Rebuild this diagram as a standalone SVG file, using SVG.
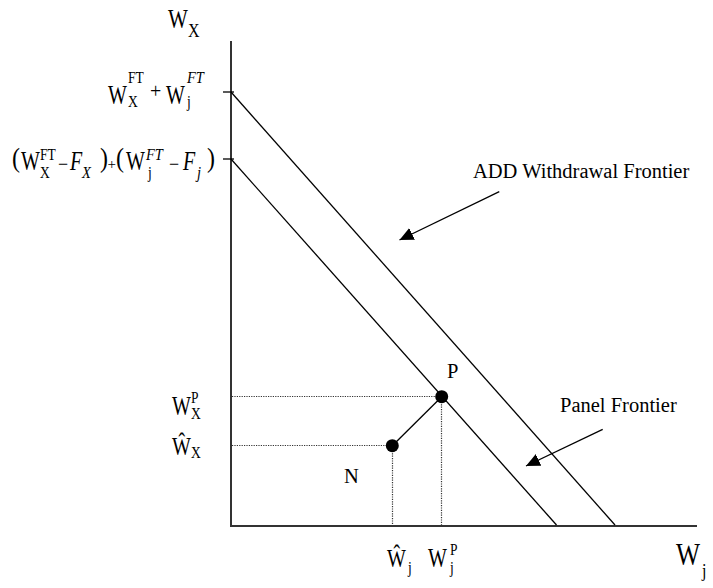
<svg xmlns="http://www.w3.org/2000/svg" width="713" height="588" viewBox="0 0 713 588">
<defs>
<style>
text{font-family:"Liberation Serif","Times New Roman",serif;fill:#000}
.lbl{font-size:20.5px}
.w{font-size:20px}
.s{font-size:13.5px}
.si{font-size:14.5px;font-style:italic}
.it{font-style:italic}
.ln{stroke:#000;stroke-width:1.3;fill:none}
.ax{stroke:#333;stroke-width:2;fill:none}
.dot{stroke:#333;stroke-width:1.2;stroke-dasharray:1.2 1.2;fill:none}
</style>
<marker id="ah" markerUnits="userSpaceOnUse" markerWidth="16" markerHeight="14" refX="14" refY="6.5" orient="auto">
<path d="M0,0 L14,6.5 L0,13 z" fill="#000"/>
</marker>
</defs>
<rect width="713" height="588" fill="#fff"/>

<g id="axes">
<line class="ax" x1="231" y1="41" x2="231" y2="526"/>
<line class="ax" x1="230" y1="526" x2="697" y2="526"/>
<line class="ln" x1="223" y1="92" x2="234" y2="92"/>
<line class="ln" x1="223" y1="159" x2="234" y2="159"/>
</g>

<g id="axis-titles">
<text transform="translate(168,28) scale(1,1.3)" style="font-size:21px">W</text>
<text transform="translate(188,37) scale(1,1.15)" style="font-size:16px">X</text>
<text transform="translate(676,565) scale(1,1.2)" style="font-size:25.5px">W</text>
<text transform="translate(702,577) scale(1,1.15)" style="font-size:16px">j</text>
</g>

<g id="connectors">
<line class="ln" x1="231" y1="92" x2="615" y2="525"/>
<line class="ln" x1="231" y1="159" x2="556.5" y2="525"/>
<line class="dot" x1="232" y1="396.5" x2="441" y2="396.5"/>
<line class="dot" x1="232" y1="445.5" x2="392" y2="445.5"/>
<line class="dot" x1="392.5" y1="446" x2="392.5" y2="525"/>
<line class="dot" x1="441.5" y1="397" x2="441.5" y2="525"/>
<line class="ln" x1="392.3" y1="445.7" x2="441.7" y2="396.7"/>
<line class="ln" x1="499.3" y1="191.7" x2="399.5" y2="240" marker-end="url(#ah)"/>
<line class="ln" x1="602.7" y1="429.3" x2="526" y2="466" marker-end="url(#ah)"/>
</g>

<g id="point-P">
<circle cx="441.7" cy="396.7" r="6.5" fill="#000"/>
<text class="lbl" x="447" y="378">P</text>
</g>
<g id="point-N">
<circle cx="392.3" cy="445.7" r="6.5" fill="#000"/>
<text class="lbl" x="344" y="483">N</text>
</g>

<g id="label-add">
<text class="lbl" x="473" y="178">ADD Withdrawal Frontier</text>
</g>
<g id="label-panel">
<text class="lbl" x="560" y="411.5">Panel Frontier</text>
</g>

<g id="label-ft-sum">
<text class="w" transform="translate(108,104) scale(1,1.4)">W</text>
<text class="s" transform="translate(128,83) scale(1,1.2)">FT</text>
<text class="s" transform="translate(128,107) scale(1,1.2)">X</text>
<text transform="translate(150,98) scale(1,1.1)" style="font-size:20px">+</text>
<text class="w" transform="translate(166,104) scale(1,1.4)">W</text>
<text class="si" transform="translate(187,83) scale(1,1.2)">FT</text>
<text class="s" transform="translate(187,107) scale(1,1.2)">j</text>
</g>

<g id="label-ft-minus-f">
<text transform="translate(12,167) scale(1,1.15)" style="font-size:24px">(</text>
<text class="w" transform="translate(21,170) scale(1,1.4)">W</text>
<text class="s" transform="translate(40,160) scale(1,1.2)">FT</text>
<text class="s" transform="translate(40,178) scale(1,1.2)">X</text>
<text transform="translate(58,170)" style="font-size:18px">−</text>
<text class="w it" transform="translate(70,170) scale(1,1.4)">F</text>
<text class="si" transform="translate(82,178) scale(1,1.2)">X</text>
<text transform="translate(100,167) scale(1,1.15)" style="font-size:24px">)</text>
<text transform="translate(107.5,169)" style="font-size:15px">+</text>
<text transform="translate(116,167) scale(1,1.15)" style="font-size:24px">(</text>
<text class="w" transform="translate(126,170) scale(1,1.4)">W</text>
<text class="si" transform="translate(146,160) scale(1,1.2)">FT</text>
<text class="s" transform="translate(148,178) scale(1,1.2)">j</text>
<text transform="translate(169,170)" style="font-size:18px">−</text>
<text class="w it" transform="translate(183,170) scale(1,1.4)">F</text>
<text class="si" transform="translate(197,178) scale(1,1.2)">j</text>
<text transform="translate(207,167) scale(1,1.15)" style="font-size:24px">)</text>
</g>

<g id="label-wxp">
<text class="w" transform="translate(172,415) scale(1,1.4)">W</text>
<text class="s" transform="translate(191,403) scale(1,1.2)">P</text>
<text class="s" transform="translate(191,419) scale(1,1.2)">X</text>
</g>
<g id="label-wx-hat">
<text class="w" transform="translate(172,455) scale(1,1.3)">Ŵ</text>
<text class="s" transform="translate(191,458) scale(1,1.2)">X</text>
</g>
<g id="label-wj-hat">
<text class="w" transform="translate(387,567) scale(1,1.3)">Ŵ</text>
<text class="s" transform="translate(408,573) scale(1,1.2)">j</text>
</g>
<g id="label-wjp">
<text class="w" transform="translate(428,567) scale(1,1.4)">W</text>
<text class="s" transform="translate(450,555) scale(1,1.2)">P</text>
<text class="s" transform="translate(450,573) scale(1,1.2)">j</text>
</g>
</svg>
